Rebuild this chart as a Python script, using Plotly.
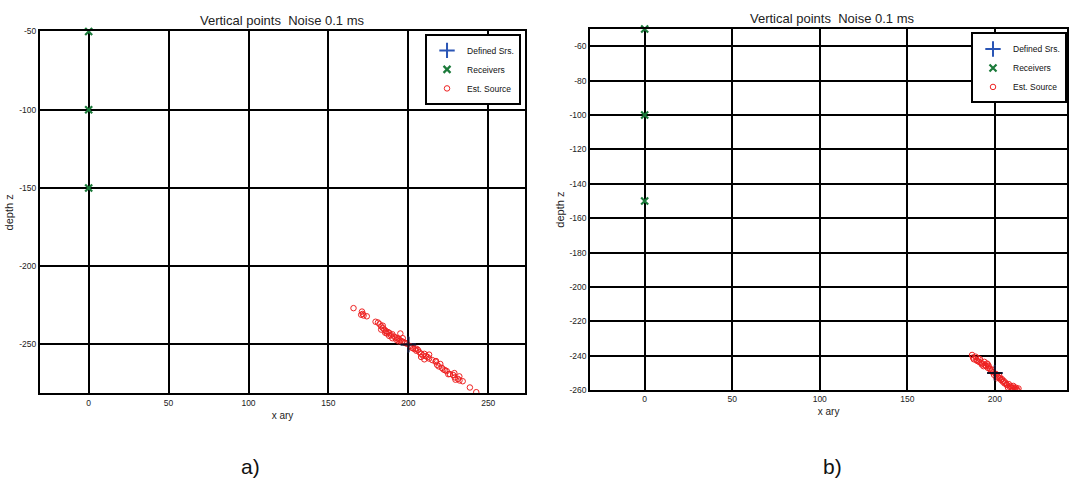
import plotly.graph_objects as go

W, H = 1069, 487

# ---------------- data ----------------
title_text = "Vertical points\u00a0 Noise 0.1 ms"

rec_x = [0, 0, 0]
rec_z = [-50, -100, -150]
src_x = [200]
src_z = [-250]

# panel a) estimated sources
est_a_x = [165.7, 171, 171.5, 172, 174, 170.5,
           179.5, 181, 182, 183, 184, 185, 184, 186, 187, 188, 186.5, 189, 190, 191,
           192, 193, 194, 195, 195, 196, 197, 198, 199, 196.5, 194, 192.5, 190, 188,
           185.5, 183,
           201, 202, 203, 204, 205, 206, 207, 208, 209, 210, 211, 212, 213, 210, 208,
           213, 215, 217, 218, 219, 220, 221, 222, 223, 224, 225, 228, 229, 229.5,
           231, 232, 234, 238.5, 242.5, 226, 228.8, 231.9, 217.3, 205]
est_a_z = [-226.8, -229, -230.5, -231.5, -232, -231,
           -235.5, -236, -237, -238.5, -239.5, -240.5, -238, -241.5, -242, -242.5,
           -243, -244, -243.5, -245, -245.5, -246, -246.5, -243, -247.5, -248, -248.5,
           -249, -249.5, -246, -248, -247, -246, -244.5, -242.5, -240.5,
           -251, -252, -252.5, -253, -254, -253.5, -255, -256, -257, -256, -257.5,
           -258, -259, -259.5, -258, -256.5, -260, -261, -263, -264, -262.5, -265,
           -266, -266.5, -267, -269, -269.5, -271, -272.5, -272, -273, -273.5,
           -277.5, -280.5, -268.9, -268.3, -270.4, -260.6, -252.7]

# panel b) estimated sources
est_b_x = [187, 187.5, 188, 189, 189.5, 190, 191, 191.5, 192, 192.5, 193, 194, 194.5,
           195, 195.5, 196, 196.5, 197, 197.5, 198, 198.5, 199, 199.5, 200.5, 201,
           201.5, 202, 202.5, 203, 203.5, 204, 204.5, 205, 205.5, 206, 206.5, 207, 208,
           208.5, 209, 209.5, 210, 210.5, 211, 211.5, 212, 212.5, 213, 213.5, 190.5,
           193.5, 196, 201, 207.5, 210]
est_b_z = [-239.5, -241, -242, -240.5, -242.5, -243, -243.5, -242, -244, -245, -244.5,
           -243.5, -245.5, -246, -244.5, -247, -246, -247.5, -248, -249, -248, -249.5,
           -251, -250.5, -251, -252, -252.5, -251.5, -253, -254, -253.5, -255, -254.5,
           -256, -255.5, -256.5, -257, -256.5, -258, -257.5, -258.5, -259, -257.5,
           -258.5, -259.5, -258.5, -259.5, -260, -259, -241.5, -246, -245, -253,
           -258.5, -260]

xticks_a = [0, 50, 100, 150, 200, 250]
yticks_a = [-250, -200, -150, -100, -50]
xticks_b = [0, 50, 100, 150, 200, 250]
yticks_b = [-260, -240, -220, -200, -180, -160, -140, -120, -100, -80, -60]

# ---------------- styles ----------------
FONT = "Arial, Liberation Sans, sans-serif"
GREEN = "#1b7a3a"
BLUE = "#2a55b5"
RED = "#ee2222"


def px(x):
    return x / W


def py(y):
    return 1 - y / H


fig = go.Figure()


def add_panel(xa, ya, legend, est_x, est_z):
    fig.add_trace(go.Scatter(
        x=src_x, y=src_z, mode="markers", name="Defined Srs.",
        marker=dict(symbol="cross-thin-open", size=11, color=BLUE,
                    line=dict(width=2, color=BLUE)),
        xaxis=xa, yaxis=ya, legend=legend, showlegend=True))
    fig.add_trace(go.Scatter(
        x=rec_x, y=rec_z, mode="markers", name="Receivers",
        marker=dict(symbol="x-thin-open", size=7, color=GREEN,
                    line=dict(width=2.2, color=GREEN)),
        xaxis=xa, yaxis=ya, legend=legend, showlegend=True, cliponaxis=False))
    fig.add_trace(go.Scatter(
        x=est_x, y=est_z, mode="markers", name="Est. Source",
        marker=dict(symbol="circle-open", size=5.5, color=RED,
                    line=dict(width=1, color=RED)),
        xaxis=xa, yaxis=ya, legend=legend, showlegend=True))
    # defined source drawn on top (dark)
    fig.add_trace(go.Scatter(
        x=src_x, y=src_z, mode="markers", name="Defined Srs.",
        marker=dict(symbol="cross-thin-open", size=11, color="#111122",
                    line=dict(width=2, color="#111122")),
        xaxis=xa, yaxis=ya, showlegend=False))


add_panel("x", "y", "legend", est_a_x, est_a_z)
add_panel("x2", "y2", "legend2", est_b_x, est_b_z)

axis_common = dict(
    showline=True, linecolor="black", linewidth=2, mirror=True,
    showgrid=True, gridcolor="black", gridwidth=1.6,
    zeroline=False, ticks="inside", ticklen=3, tickcolor="black",
    tickfont=dict(family=FONT, size=8.5, color="#222"),
)

legend_common = dict(
    bgcolor="white", bordercolor="black", borderwidth=2,
    font=dict(family=FONT, size=8.5, color="#111"),
    yanchor="top", itemsizing="trace", itemwidth=30,
    tracegroupgap=0,
)


def labels(vals):
    return [str(v) for v in vals]


title_font = dict(family=FONT, size=10, color="#222")
ytitle_font = dict(family=FONT, size=11, color="#222")

fig.update_layout(
    width=W, height=H, autosize=False,
    margin=dict(l=0, r=0, t=0, b=0),
    paper_bgcolor="white", plot_bgcolor="white",
    font=dict(family=FONT, color="#222"),
    xaxis=dict(domain=[px(40), px(526)], range=[-30.5, 273],
               tickvals=xticks_a, ticktext=labels(xticks_a), anchor="y",
               title=dict(text="x ary", font=title_font, standoff=5),
               **axis_common),
    yaxis=dict(domain=[py(396.5), py(27)], range=[-281.25, -50],
               tickvals=yticks_a, ticktext=labels(yticks_a), anchor="x",
               title=dict(text="depth z", font=ytitle_font, standoff=3),
               **axis_common),
    xaxis2=dict(domain=[px(591.3), 1.0], range=[-31.1, 241.2],
                tickvals=xticks_b, ticktext=labels(xticks_b), anchor="y2",
                title=dict(text="x ary", font=title_font, standoff=5),
                **axis_common),
    yaxis2=dict(domain=[py(393.3), py(24.5)], range=[-260, -50],
                tickvals=yticks_b, ticktext=labels(yticks_b), anchor="x2",
                title=dict(text="depth z", font=ytitle_font, standoff=3),
                **axis_common),
    legend=dict(x=px(522), y=py(29.5), xanchor="right", **legend_common),
    legend2=dict(x=1.0, y=py(28), xanchor="right", **legend_common),
    showlegend=True,
)

for xc, yc in ((283, 15.5), (834, 14)):
    fig.add_annotation(text=title_text, x=px(xc), y=py(yc), xref="paper", yref="paper",
                       xanchor="center", yanchor="middle", showarrow=False,
                       font=dict(family=FONT, size=13, color="#222"))

for label, xc in (("a)", 251), ("b)", 834)):
    fig.add_annotation(text=label, x=px(xc), y=py(471), xref="paper", yref="paper",
                       xanchor="center", yanchor="middle", showarrow=False,
                       font=dict(family=FONT, size=21, color="#111"))

fig.write_html("out.html")
